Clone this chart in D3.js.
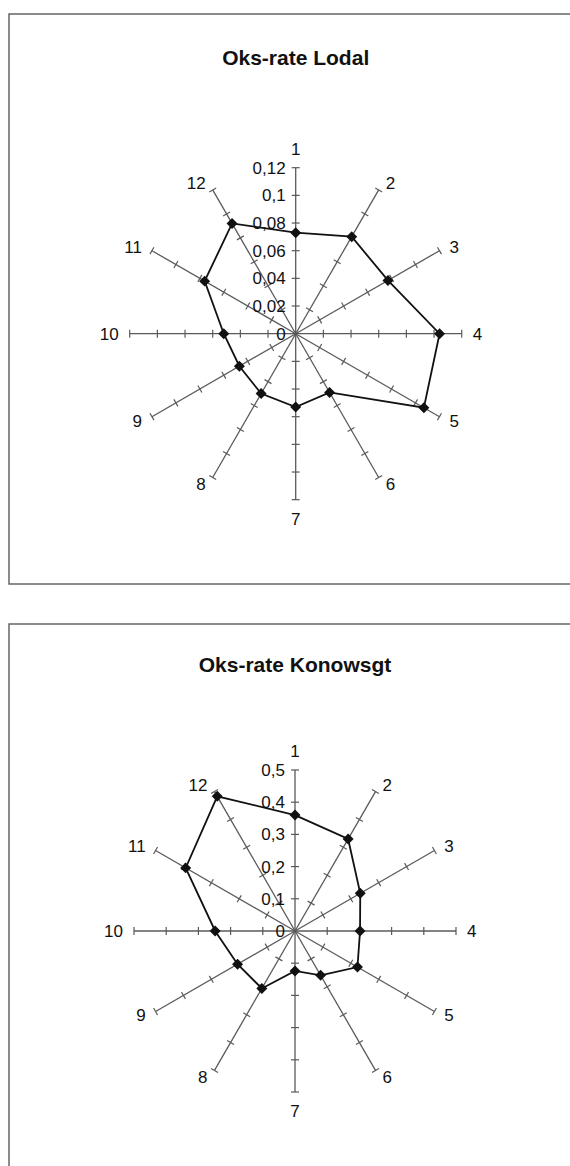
<!DOCTYPE html>
<meta charset="utf-8">
<title>Oks-rate</title>
<style>
	body {
		margin: 0;
		background: #fff;
		font-family: "Liberation Sans", Arial, sans-serif;
	}
	.frame { fill: none; stroke: #666; stroke-width: 1.5; }
	.title { font-weight: bold; font-size: 21px; fill: #111; }
	.spoke { stroke: #5a5a5a; stroke-width: 1.3; }
	.tick { stroke: #5a5a5a; stroke-width: 1.2; }
	.tick-label, .axis-label { font-size: 17px; fill: #111; }
	.serie { fill: none; stroke: #111; stroke-width: 1.8; }
	.point { fill: #111; }
</style>
<body>
<div id="chart"></div>
<script src="https://d3js.org/d3.v7.min.js"></script>
<script>
// axes 1..12
var axes = ["1", "2", "3", "4", "5", "6", "7", "8", "9", "10", "11", "12"];

// Oks-rate Lodal
var lodal = [0.073, 0.081, 0.077, 0.104, 0.107, 0.049, 0.053, 0.050, 0.047, 0.052, 0.076, 0.092];
var lodalTicks = [0, 0.02, 0.04, 0.06, 0.08, 0.1, 0.12];

// Oks-rate Konowsgt
var konowsgt = [0.36, 0.33, 0.234, 0.202, 0.224, 0.159, 0.124, 0.206, 0.206, 0.248, 0.392, 0.483];
var konowsgtTicks = [0, 0.1, 0.2, 0.3, 0.4, 0.5];

var width = 570, height = 1166;

var svg = d3.select("#chart").append("svg")
	.attr("width", width)
	.attr("height", height);

var fmt = d3.formatLocale({decimal: ",", thousands: " ", grouping: [3], currency: ["", ""]}).format(".2~f");

// les deux cadres
svg.append("rect").attr("class", "frame")
	.attr("x", 9).attr("y", 14).attr("width", 600).attr("height", 570);
svg.append("rect").attr("class", "frame")
	.attr("x", 9).attr("y", 624).attr("width", 600).attr("height", 600);

var charts = [
	{ title: "Oks-rate Lodal", values: lodal, ticks: lodalTicks, cx: 295.7, cy: 333.7, R: 166, titleY: 58 },
	{ title: "Oks-rate Konowsgt", values: konowsgt, ticks: konowsgtTicks, cx: 295, cy: 931, R: 161, titleY: 665 }
];

charts.forEach(drawRadar);

function drawRadar(c) {
	var g = svg.append("g").attr("transform", "translate(" + c.cx + "," + c.cy + ")");

	var r = d3.scaleLinear()
		.domain([0, d3.max(c.ticks)])
		.range([0, c.R]);

	var angle = d3.scalePoint()
		.domain(axes)
		.range([0, 2 * Math.PI * 11 / 12]);

	svg.append("text")
		.attr("class", "title")
		.attr("x", c.cx)
		.attr("y", c.titleY)
		.attr("text-anchor", "middle")
		.attr("dy", "0.35em")
		.text(c.title);

	// rayons
	var spokes = g.selectAll(".axis")
		.data(axes)
		.enter().append("g")
		.attr("class", "axis")
		.attr("transform", function (d) { return "rotate(" + (angle(d) * 180 / Math.PI) + ")"; });

	spokes.append("line")
		.attr("class", "spoke")
		.attr("x1", 0).attr("y1", 0)
		.attr("x2", 0).attr("y2", -r(d3.max(c.ticks)));

	spokes.selectAll(".tick")
		.data(c.ticks.filter(function (t) { return t > 0; }))
		.enter().append("line")
		.attr("class", "tick")
		.attr("x1", -4).attr("x2", 4)
		.attr("y1", function (t) { return -r(t); })
		.attr("y2", function (t) { return -r(t); });

	// étiquettes de l'axe 1
	g.selectAll(".tick-label")
		.data(c.ticks)
		.enter().append("text")
		.attr("class", "tick-label")
		.attr("x", -10)
		.attr("y", function (t) { return -r(t); })
		.attr("dy", "0.35em")
		.attr("text-anchor", "end")
		.text(fmt);

	// noms des axes
	g.selectAll(".axis-label")
		.data(axes)
		.enter().append("text")
		.attr("class", "axis-label")
		.each(function (d) {
			var a = angle(d);
			var s = Math.sin(a), co = -Math.cos(a);
			var el = d3.select(this);
			if (Math.abs(s) < 0.01) {
				var rr = c.R + 19;
				el.attr("x", 0).attr("y", co * rr).attr("text-anchor", "middle");
			} else {
				var rr2 = c.R + 8;
				el.attr("x", s * rr2 + (s > 0 ? 3 : -3)).attr("y", co * rr2)
					.attr("text-anchor", s > 0 ? "start" : "end");
			}
		})
		.attr("dy", "0.35em")
		.text(function (d) { return d; });

	// la série
	var line = d3.lineRadial()
		.angle(function (d, i) { return angle(axes[i]); })
		.radius(function (d) { return r(d); })
		.curve(d3.curveLinearClosed);

	g.append("path")
		.attr("class", "serie")
		.attr("d", line(c.values));

	g.selectAll(".point")
		.data(c.values)
		.enter().append("path")
		.attr("class", "point")
		.attr("d", d3.symbol(d3.symbolSquare, 60))
		.attr("transform", function (d, i) {
			var a = angle(axes[i]);
			return "translate(" + (Math.sin(a) * r(d)) + "," + (-Math.cos(a) * r(d)) + ") rotate(45)";
		});
}
</script>
</body>
